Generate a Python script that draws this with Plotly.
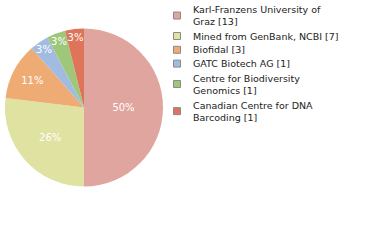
import plotly.graph_objects as go

labels = ["Karl-Franzens University of<br>Graz [13]", "Mined from GenBank, NCBI [7]", "Biofidal [3]",
          "GATC Biotech AG [1]", "Centre for Biodiversity<br>Genomics [1]", "Canadian Centre for DNA<br>Barcoding [1]"]
values = [13, 7, 3, 1, 1, 1]
colors = ["#E0A59E", "#DFE2A0", "#EEAC74", "#A1BCE0", "#9FC77A", "#DE7459"]
total = sum(values)
pct_text = [f"{int(v * 100 / total)}%" for v in values]

W, H = 380, 240
FONT = "DejaVu Sans"

fig = go.Figure(go.Pie(
    labels=labels, values=values, sort=False, direction="clockwise", rotation=0,
    marker=dict(colors=colors, line=dict(width=0)),
    text=pct_text, textinfo="text", textposition="inside",
    insidetextorientation="horizontal",
    textfont=dict(color="white", size=10, family=FONT),
    domain=dict(x=[5 / W, 163 / W], y=[0.2229, 0.8813]),
    hoverinfo="label+value",
    showlegend=False,
))

# compact legend drawn as annotations + squares
line_h = 13.3
y_top = 2.0
for lab, col in zip(labels, colors):
    n_lines = lab.count("<br>") + 1
    h = n_lines * line_h + 0.5
    yc = y_top + h / 2
    fig.add_shape(type="rect", xref="paper", yref="paper",
                  x0=173.5 / W, x1=180.5 / W,
                  y0=1 - (yc + 3.5) / H, y1=1 - (yc - 3.5) / H,
                  fillcolor=col, line=dict(color="#8a8a8a", width=1))
    fig.add_annotation(text=lab, xref="paper", yref="paper",
                       x=191 / W, y=1 - yc / H, xanchor="left", yanchor="middle",
                       align="left", showarrow=False,
                       font=dict(size=9.5, family=FONT, color="#222"))
    y_top += h

fig.update_layout(
    width=W, height=H, margin=dict(l=0, r=0, t=0, b=0),
    paper_bgcolor="white", plot_bgcolor="white",
    showlegend=False,
    uniformtext=dict(minsize=10, mode="show"),
)
fig.write_html("out.html")
